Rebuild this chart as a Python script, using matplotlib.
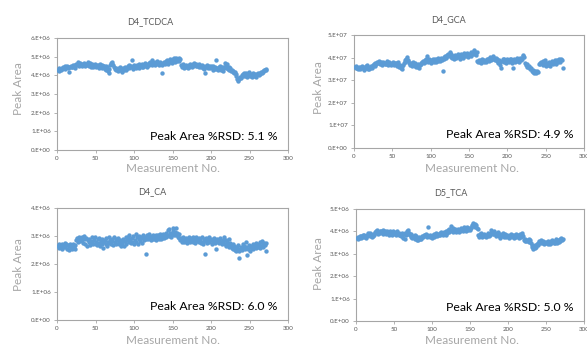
import numpy as np
import matplotlib
matplotlib.use("Agg")
import matplotlib.pyplot as plt
from matplotlib.ticker import FuncFormatter, MultipleLocator

plt.rcParams['font.family'] = ['Lato', 'DejaVu Sans']

# ---------------- data (values in units of 1e6 or 1e7) ----------------
tcdca = [4.30, 4.22, 4.38, 4.35, 4.28, 4.41, 4.33, 4.45, 4.39, 4.36,
         4.48, 4.42, 4.51, 4.40, 4.46, 4.20, 4.44, 4.52, 4.47, 4.43,
         4.55, 4.49, 4.38, 4.58, 4.62, 4.54, 4.70, 4.60, 4.52, 4.64,
         4.57, 4.49, 4.61, 4.55, 4.66, 4.50, 4.59, 4.63, 4.53, 4.72,
         4.58, 4.51, 4.65, 4.47, 4.56, 4.60, 4.42, 4.54, 4.62, 4.50,
         4.45, 4.57, 4.49, 4.41, 4.53, 4.60, 4.46, 4.38, 4.55, 4.50,
         4.48, 4.36, 4.52, 4.30, 4.44, 4.25, 4.15, 4.35, 4.58, 4.65,
         4.72, 4.62, 4.55, 4.45, 4.32, 4.40, 4.28, 4.36, 4.24, 4.38,
         4.30, 4.42, 4.26, 4.34, 4.20, 4.39, 4.31, 4.45, 4.35, 4.27,
         4.41, 4.48, 4.38, 4.55, 4.44, 4.52, 4.80, 4.46, 4.35, 4.58,
         4.42, 4.50, 4.37, 4.55, 4.46, 4.61, 4.40, 4.52, 4.58, 4.47,
         4.63, 4.45, 4.54, 4.68, 4.50, 4.60, 4.42, 4.56, 4.65, 4.53,
         4.70, 4.62, 4.80, 4.58, 4.73, 4.65, 4.55, 4.72, 4.64, 4.76,
         4.60, 4.68, 4.57, 4.74, 4.63, 4.55, 4.15, 4.66, 4.70, 4.60,
         4.75, 4.68, 4.82, 4.62, 4.78, 4.70, 4.85, 4.74, 4.66, 4.88,
         4.80, 4.95, 4.72, 4.86, 4.91, 4.78, 4.84, 4.92, 4.75, 4.88,
         4.55, 4.42, 4.50, 4.60, 4.38, 4.48, 4.56, 4.45, 4.52, 4.40,
         4.58, 4.47, 4.62, 4.53, 4.44, 4.60, 4.50, 4.65, 4.55, 4.48,
         4.62, 4.52, 4.58, 4.45, 4.60, 4.50, 4.42, 4.55, 4.38, 4.48,
         4.35, 4.10, 4.50, 4.44, 4.56, 4.40, 4.52, 4.46, 4.38, 4.50,
         4.42, 4.30, 4.48, 4.36, 4.44, 4.32, 4.80, 4.40, 4.28, 4.45,
         4.35, 4.50, 4.30, 4.42, 4.38, 4.25, 4.46, 4.68, 4.55, 4.40,
         4.62, 4.35, 4.45, 4.30, 4.38, 4.22, 4.28, 4.18, 4.25, 4.12,
         4.20, 4.05, 3.95, 3.80, 3.72, 3.85, 3.78, 3.92, 3.88, 4.00,
         3.95, 4.05, 4.10, 3.98, 4.15, 4.02, 3.92, 4.08, 4.20, 4.00,
         3.96, 4.05, 3.90, 4.02, 4.10, 3.95, 4.06, 4.00, 3.93, 4.08,
         4.12, 4.04, 4.15, 4.08, 4.20, 4.14, 4.22, 4.18, 4.26, 4.30,
         4.35, 4.28]

gca = [3.58, 3.52, 3.62, 3.55, 3.48, 3.60, 3.54, 3.50, 3.57, 3.63,
       3.52, 3.58, 3.46, 3.55, 3.61, 3.53, 3.66, 3.50, 3.57, 3.48,
       3.55, 3.62, 3.52, 3.58, 3.68, 3.72, 3.65, 3.78, 3.70, 3.82,
       3.75, 3.85, 3.79, 3.70, 3.82, 3.74, 3.68, 3.80, 3.76, 3.72,
       3.78, 3.70, 3.83, 3.66, 3.75, 3.80, 3.72, 3.69, 3.77, 3.73,
       3.81, 3.68, 3.75, 3.70, 3.78, 3.64, 3.72, 3.80, 3.60, 3.68,
       3.55, 3.62, 3.50, 3.66, 3.74, 3.82, 3.88, 3.95, 4.02, 3.90,
       3.85, 3.75, 3.68, 3.78, 3.72, 3.65, 3.80, 3.70, 3.62, 3.74,
       3.58, 3.68, 3.60, 3.72, 3.55, 3.66, 3.75, 3.70, 3.80, 3.86,
       3.78, 3.90, 3.82, 3.95, 4.08, 3.88, 3.80, 3.92, 3.85, 3.78,
       3.90, 3.84, 3.95, 3.80, 3.88, 3.96, 3.82, 3.92, 3.86, 3.98,
       3.90, 3.84, 4.00, 3.94, 3.88, 3.42, 4.02, 3.95, 4.08, 4.00,
       4.12, 4.05, 4.18, 4.10, 4.25, 4.02, 4.15, 3.98, 4.08, 3.95,
       4.05, 4.12, 3.98, 4.08, 4.15, 4.02, 4.10, 3.96, 4.18, 4.06,
       4.12, 4.00, 4.20, 4.08, 4.15, 4.05, 4.22, 4.10, 4.02, 4.18,
       4.12, 4.24, 4.08, 4.20, 4.15, 4.28, 4.32, 4.18, 4.12, 4.25,
       3.85, 3.80, 3.90, 3.82, 3.88, 3.78, 3.92, 3.84, 3.80, 3.90,
       3.86, 3.82, 3.95, 3.88, 3.92, 3.84, 3.98, 4.02, 3.90, 3.95,
       4.05, 3.92, 3.98, 3.88, 4.00, 3.85, 3.95, 3.78, 3.90, 3.82,
       3.68, 3.52, 3.85, 3.92, 3.80, 3.95, 3.88, 3.75, 3.92, 3.84,
       3.90, 3.80, 3.96, 3.85, 3.92, 3.78, 3.55, 3.88, 3.95, 3.82,
       3.90, 3.98, 3.85, 3.94, 3.80, 3.92, 4.00, 3.88, 3.95, 4.05,
       4.10, 4.02, 3.75, 3.68, 3.60, 3.70, 3.58, 3.62, 3.52, 3.48,
       3.55, 3.42, 3.38, 3.45, 3.32, 3.40, 3.35, 3.30, 3.42, 3.38,
       3.72, 3.78, 3.70, 3.82, 3.75, 3.85, 3.68, 3.78, 3.90, 3.72,
       3.62, 3.75, 3.68, 3.80, 3.72, 3.65, 3.78, 3.85, 3.70, 3.82,
       3.76, 3.88, 3.72, 3.84, 3.90, 3.80, 3.86, 3.92, 3.82, 3.95,
       3.90, 3.56]

ca = [2.65, 2.58, 2.70, 2.62, 2.68, 2.55, 2.72, 2.60, 2.66, 2.75,
      2.62, 2.70, 2.55, 2.68, 2.50, 2.64, 2.72, 2.58, 2.66, 2.52,
      2.70, 2.62, 2.55, 2.68, 2.85, 2.92, 2.80, 2.88, 2.95, 2.82,
      2.90, 2.86, 2.98, 2.75, 3.00, 2.88, 2.70, 2.92, 2.65, 2.84,
      2.78, 2.90, 2.68, 2.82, 2.75, 2.95, 2.70, 2.86, 2.98, 2.72,
      2.80, 2.68, 2.88, 2.75, 2.92, 2.65, 2.82, 2.70, 2.90, 2.58,
      2.78, 2.85, 2.72, 2.92, 2.66, 2.80, 2.95, 2.74, 2.86, 2.70,
      2.90, 2.82, 2.68, 2.96, 2.78, 2.88, 2.72, 2.84, 2.92, 2.76,
      2.70, 2.86, 2.64, 2.80, 2.74, 2.90, 2.66, 2.82, 2.95, 2.72,
      2.85, 2.98, 2.78, 3.02, 2.88, 2.75, 2.92, 2.80, 3.00, 2.70,
      2.86, 3.08, 2.78, 2.95, 2.72, 2.90, 3.00, 2.82, 2.96, 2.76,
      2.92, 3.05, 2.85, 2.98, 2.35, 2.90, 3.02, 2.88, 2.95, 3.06,
      2.92, 2.85, 3.00, 2.90, 3.05, 2.88, 2.96, 3.02, 2.86, 2.98,
      3.04, 2.90, 2.95, 3.08, 2.88, 3.00, 2.94, 3.06, 2.92, 3.02,
      2.98, 3.10, 3.05, 3.22, 3.00, 3.25, 3.12, 2.95, 3.08, 3.18,
      3.30, 3.02, 3.15, 3.28, 3.05, 3.10, 2.98, 3.08, 2.92, 2.86,
      2.92, 2.80, 2.88, 2.95, 2.78, 2.85, 2.92, 2.82, 2.76, 2.90,
      2.84, 2.95, 2.78, 2.88, 2.92, 2.80, 2.98, 2.86, 2.74, 2.90,
      2.96, 2.82, 2.88, 2.78, 2.92, 2.85, 2.76, 2.95, 2.80, 2.70,
      2.88, 2.36, 2.82, 2.92, 2.75, 2.86, 2.96, 2.78, 2.90, 2.84,
      2.72, 2.88, 2.80, 2.94, 2.76, 2.85, 2.55, 2.90, 2.78, 2.84,
      2.74, 2.92, 2.80, 2.70, 2.86, 2.78, 2.96, 2.72, 2.84, 2.66,
      2.80, 2.70, 2.88, 2.62, 2.74, 2.68, 2.58, 2.72, 2.55, 2.64,
      2.50, 2.60, 2.45, 2.56, 2.68, 2.48, 2.22, 2.55, 2.62, 2.50,
      2.72, 2.58, 2.66, 2.52, 2.62, 2.78, 2.32, 2.55, 2.68, 2.60,
      2.48, 2.64, 2.56, 2.70, 2.52, 2.66, 2.60, 2.74, 2.58, 2.68,
      2.62, 2.70, 2.56, 2.78, 2.65, 2.82, 2.72, 2.60, 2.76, 2.68,
      2.74, 2.45]

tca = [3.72, 3.68, 3.75, 3.70, 3.78, 3.72, 3.80, 3.74, 3.82, 3.76,
       3.84, 3.78, 3.72, 3.86, 3.80, 3.92, 3.85, 3.78, 3.95, 3.82,
       3.76, 3.88, 3.80, 3.84, 3.98, 4.02, 3.94, 4.05, 3.90, 3.98,
       4.04, 3.92, 4.00, 3.96, 4.06, 3.90, 3.98, 4.02, 3.88, 3.96,
       4.00, 3.92, 3.86, 3.98, 4.04, 3.90, 3.95, 3.85, 4.00, 3.92,
       3.88, 3.96, 3.84, 4.00, 3.90, 3.82, 3.95, 3.86, 3.78, 3.92,
       3.80, 3.72, 3.88, 3.95, 3.68, 3.85, 4.00, 3.90, 4.05, 3.95,
       3.82, 3.76, 3.88, 3.70, 3.80, 3.74, 3.85, 3.66, 3.78, 3.62,
       3.70, 3.60, 3.75, 3.65, 3.72, 3.68, 3.80, 3.74, 3.86, 3.78,
       3.82, 3.88, 3.76, 3.84, 4.20, 3.80, 3.74, 3.86, 3.78, 3.72,
       3.82, 3.76, 3.88, 3.80, 3.92, 3.84, 3.78, 3.90, 3.86, 3.94,
       3.82, 3.96, 3.88, 3.92, 3.84, 3.98, 3.90, 3.86, 4.00, 3.94,
       4.05, 3.96, 4.10, 4.00, 4.25, 4.08, 3.98, 4.15, 4.02, 4.10,
       3.96, 4.06, 4.00, 4.12, 3.98, 4.08, 4.02, 4.15, 4.05, 4.10,
       4.00, 4.18, 4.08, 4.12, 4.02, 4.20, 4.10, 4.05, 4.16, 4.08,
       4.14, 4.22, 4.30, 4.38, 4.25, 4.32, 4.20, 4.28, 4.15, 4.10,
       3.82, 3.75, 3.88, 3.80, 3.92, 3.76, 3.85, 3.78, 3.90, 3.82,
       3.74, 3.86, 3.80, 3.92, 3.78, 3.84, 3.95, 4.08, 3.98, 3.90,
       4.02, 3.88, 3.94, 3.80, 3.90, 3.84, 3.96, 3.78, 3.88, 3.72,
       3.85, 3.78, 3.92, 3.82, 3.76, 3.88, 3.80, 3.74, 3.86, 3.78,
       3.72, 3.84, 3.76, 3.90, 3.80, 3.74, 3.86, 3.70, 3.82, 3.76,
       3.88, 3.78, 3.84, 3.72, 3.80, 3.90, 3.76, 3.86, 3.92, 3.80,
       3.62, 3.58, 3.65, 3.55, 3.62, 3.58, 3.66, 3.52, 3.60, 3.48,
       3.38, 3.30, 3.22, 3.35, 3.28, 3.40, 3.32, 3.45, 3.38, 3.50,
       3.55, 3.48, 3.60, 3.52, 3.46, 3.56, 3.50, 3.44, 3.54, 3.48,
       3.52, 3.45, 3.58, 3.50, 3.42, 3.55, 3.48, 3.62, 3.52, 3.46,
       3.58, 3.50, 3.64, 3.56, 3.48, 3.60, 3.54, 3.66, 3.58, 3.70,
       3.62, 3.68]

titles = ["D4_TCDCA", "D4_GCA", "D4_CA", "D5_TCA"]
series = [tcdca, gca, ca, tca]
exponents = [6, 7, 6, 6]
ymax_units = [6, 5, 4, 5]
rsd_labels = ["Peak Area %RSD: 5.1 %", "Peak Area %RSD: 4.9 %",
              "Peak Area %RSD: 6.0 %", "Peak Area %RSD: 5.0 %"]
xlabel = "Measurement No."
ylabel = "Peak Area"

# ---------------- layout ----------------
W, H = 587, 347
fig = plt.figure(figsize=(W / 100, H / 100), dpi=100)

# axes boxes in pixels: left, top, right, bottom
boxes = [(57, 38, 288, 150), (354, 35, 584, 148),
         (57, 208, 288, 320), (356, 209, 584, 321)]
title_pos = [(150, 22), (449, 20), (152, 192), (451, 193)]
ylab_pos = [(19, 89), (318, 88), (19, 265), (319, 264)]
xlab_pos = [(173, 168), (472, 169), (173, 340), (472, 340)]

blue = "#5b9bd5"
frame = "#a6a6a6"
ticktxt = "#595959"
labgray = "#a6a6a6"

for i in range(4):
    l, t, r, b = boxes[i]
    ax = fig.add_axes([l / W, 1 - b / H, (r - l) / W, (b - t) / H])
    scale = 10 ** exponents[i]
    y = np.array(series[i]) * scale
    x = np.arange(1, len(y) + 1)
    ax.scatter(x, y, s=10, color=blue, linewidths=0, zorder=3)
    ax.set_xlim(0, 300)
    ax.set_ylim(0, ymax_units[i] * scale)
    ax.xaxis.set_major_locator(MultipleLocator(50))
    ax.yaxis.set_major_locator(MultipleLocator(scale))
    e = exponents[i]
    ax.yaxis.set_major_formatter(FuncFormatter(
        lambda v, p, e=e: f"{v / 10 ** e:.0f}.E+{0 if v == 0 else e:02d}"))
    for sp in ax.spines.values():
        sp.set_color(frame)
        sp.set_linewidth(0.8)
    ax.tick_params(axis='both', length=2.5, width=0.6, color=frame,
                   labelsize=4.5, labelcolor=ticktxt, pad=2)
    ax.text(0.955, 0.12, rsd_labels[i], transform=ax.transAxes,
            ha='right', va='center', fontsize=8.8, color='black')
    tx, ty = title_pos[i]
    fig.text(tx / W, 1 - ty / H, titles[i], ha='center', va='center',
             fontsize=6.5, color=ticktxt)
    yx, yy = ylab_pos[i]
    fig.text(yx / W, 1 - yy / H, ylabel, ha='center', va='center',
             rotation=90, fontsize=8.5, color=labgray)
    xx, xy = xlab_pos[i]
    fig.text(xx / W, 1 - xy / H, xlabel, ha='center', va='center',
             fontsize=8.5, color=labgray)

fig.savefig("out.png", dpi=100, facecolor="white")
